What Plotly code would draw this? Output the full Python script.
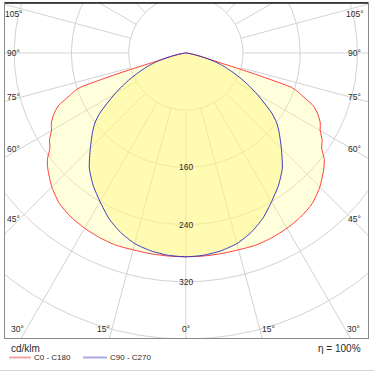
import numpy as np
import plotly.graph_objects as go

# ---- data (cd/klm) ----
gamma = [0, 5, 10, 15, 20, 25, 30, 35, 40, 45, 50, 52.5, 55, 57.5, 60, 62.5, 65, 67.5,
         70, 71, 72, 72.5, 73, 73.5, 74, 75, 77, 80, 84, 90]
c0_c180 = [285, 285, 285, 285, 286, 285, 283, 280, 275, 265, 252, 244, 232, 226, 217, 212, 204, 193,
           172, 165, 155, 128, 102, 75, 52, 36, 20, 8, 2, 0]
c90_c270 = [285, 284, 281, 276, 267, 255, 240, 226, 210, 189, 170, 160, 147, 130, 115, 100, 86, 72,
            60, 55, 50, 47, 44, 41, 38, 32, 22, 10, 2, 0]
ring_values = [80, 160, 240, 320, 400]
ring_labels = [160, 240, 320]
side_angles = [45, 60, 75, 90, 105]
bottom_angles = [0, 15, 30]
series_names = ["C0 - C180", "C90 - C270"]
efficiency = "η = 100%"
unit = "cd/klm"

# ---- helpers ----
def curve_xy(angles, values):
    a = np.radians(np.array(angles, dtype=float))
    v = np.array(values, dtype=float)
    xl = -(v * np.sin(a))[::-1]
    yl = -(v * np.cos(a))[::-1]
    xr = v * np.sin(a)
    yr = -v * np.cos(a)
    return np.concatenate([xl, xr[1:]]), np.concatenate([yl, yr[1:]])

fig = go.Figure()

grid_col = "#d2d2d2"
rx, ry = [], []
t = np.linspace(0, 2 * np.pi, 721)
for R in ring_values:
    rx += list(R * np.cos(t)) + [None]
    ry += list(R * np.sin(t)) + [None]
fig.add_trace(go.Scatter(x=rx, y=ry, mode="lines", line=dict(color=grid_col, width=1),
                         hoverinfo="skip", showlegend=False))
lx, ly = [], []
for a in range(0, 360, 15):
    ar = np.radians(a)
    lx += [ring_values[0] * np.sin(ar), 600 * np.sin(ar), None]
    ly += [-ring_values[0] * np.cos(ar), -600 * np.cos(ar), None]
fig.add_trace(go.Scatter(x=lx, y=ly, mode="lines", line=dict(color=grid_col, width=1),
                         hoverinfo="skip", showlegend=False))

xr_, yr_ = curve_xy(gamma, c0_c180)
xb_, yb_ = curve_xy(gamma, c90_c270)

fig.add_trace(go.Scatter(x=xr_, y=yr_, mode="lines", fill="toself",
                         fillcolor="rgba(255,255,150,0.33)",
                         line=dict(width=0, shape="spline", smoothing=0.6),
                         hoverinfo="skip", showlegend=False))
fig.add_trace(go.Scatter(x=xb_, y=yb_, mode="lines", fill="toself",
                         fillcolor="rgba(255,245,120,0.42)",
                         line=dict(width=0, shape="spline", smoothing=0.6),
                         hoverinfo="skip", showlegend=False))
fig.add_trace(go.Scatter(x=xr_, y=yr_, mode="lines",
                         line=dict(color="#ff3b3b", width=1, shape="spline", smoothing=0.6),
                         name=series_names[0], showlegend=False))
fig.add_trace(go.Scatter(x=xb_, y=yb_, mode="lines",
                         line=dict(color="#3a3ac0", width=1, shape="spline", smoothing=0.6),
                         name=series_names[1], showlegend=False))

X0, X1 = -252.9, 254.8
Y0, Y1 = -398.6, 69.9
W_PX, H_PX = 363, 335

font = "Liberation Sans, Arial, sans-serif"
txt_col = "#2a2a2a"
fs = 8.5
ann = []
for R in ring_labels:
    ann.append(dict(x=0, y=-R, text=str(R), showarrow=False, xref="x", yref="y",
                    font=dict(size=fs, color=txt_col, family=font)))
side_dx = 232.0
for a in side_angles:
    y = -side_dx / np.tan(np.radians(a)) if a != 90 else 0.0
    y = min(y, 54.5)
    ann.append(dict(x=-241, y=y, text=f"{a}°", showarrow=False, xref="x", yref="y",
                    font=dict(size=fs, color=txt_col, family=font)))
    ann.append(dict(x=236, y=y, text=f"{a}°", showarrow=False, xref="x", yref="y",
                    font=dict(size=fs, color=txt_col, family=font)))
yb = -386.0
for a in bottom_angles:
    xx = -yb * np.tan(np.radians(a))
    if a == 0:
        ann.append(dict(x=0, y=yb, text=f"{a}°", showarrow=False, xref="x", yref="y",
                        font=dict(size=fs, color=txt_col, family=font)))
    else:
        ann.append(dict(x=-xx, y=yb, text=f"{a}°", showarrow=False, xanchor="right",
                        xref="x", yref="y", font=dict(size=fs, color=txt_col, family=font)))
        ann.append(dict(x=xx, y=yb, text=f"{a}°", showarrow=False, xanchor="left",
                        xref="x", yref="y", font=dict(size=fs, color=txt_col, family=font)))

def px_to_paper(px, py):
    return (px - 5) / W_PX, (338 - py) / H_PX

cx, cy = px_to_paper(9, 348)
ann.append(dict(x=cx, y=cy, text=unit, showarrow=False, xref="paper", yref="paper",
                xanchor="left", yanchor="middle", font=dict(size=10, color=txt_col, family=font)))
cx, cy = px_to_paper(32, 357.5)
ann.append(dict(x=cx, y=cy, text=series_names[0], showarrow=False, xref="paper", yref="paper",
                xanchor="left", yanchor="middle", font=dict(size=8, color=txt_col, family=font)))
cx, cy = px_to_paper(108, 357.5)
ann.append(dict(x=cx, y=cy, text=series_names[1], showarrow=False, xref="paper", yref="paper",
                xanchor="left", yanchor="middle", font=dict(size=8, color=txt_col, family=font)))
cx, cy = px_to_paper(363, 348)
ann.append(dict(x=cx, y=cy, text=efficiency, showarrow=False, xref="paper", yref="paper",
                xanchor="right", yanchor="middle", font=dict(size=10, color=txt_col, family=font)))

shapes = []
x0p, yp = px_to_paper(9, 357.5)
x1p, _ = px_to_paper(31, 357.5)
shapes.append(dict(type="line", xref="paper", yref="paper", x0=x0p, x1=x1p, y0=yp, y1=yp,
                   line=dict(color="#f0a6a6", width=2)))
x0p, _ = px_to_paper(83, 357.5)
x1p, _ = px_to_paper(107, 357.5)
shapes.append(dict(type="line", xref="paper", yref="paper", x0=x0p, x1=x1p, y0=yp, y1=yp,
                   line=dict(color="#aaaae2", width=2)))
shapes.append(dict(type="line", xref="paper", yref="paper", x0=0, x1=1, y0=1, y1=1,
                   line=dict(color="#1a1a1a", width=1.5)))
x0p, ys = px_to_paper(0, 370.5)
x1p, _ = px_to_paper(374, 370.5)
shapes.append(dict(type="line", xref="paper", yref="paper", x0=x0p, x1=x1p, y0=ys, y1=ys,
                   line=dict(color="#d4d4d4", width=1)))

fig.update_layout(
    width=374, height=372,
    margin=dict(l=5, r=6, t=3, b=34),
    paper_bgcolor="white", plot_bgcolor="white",
    xaxis=dict(range=[X0, X1], showgrid=False, zeroline=False, showticklabels=False,
               ticks="", showline=True, linecolor="#8a8a8a", linewidth=1, mirror=True,
               fixedrange=True),
    yaxis=dict(range=[Y0, Y1], showgrid=False, zeroline=False, showticklabels=False,
               ticks="", showline=True, linecolor="#8a8a8a", linewidth=1, mirror=True,
               fixedrange=True),
    annotations=ann, shapes=shapes, showlegend=False,
)

fig.write_html("out.html", config={"displayModeBar": False},
               post_script="document.body.style.margin='0';document.body.style.padding='0';")
